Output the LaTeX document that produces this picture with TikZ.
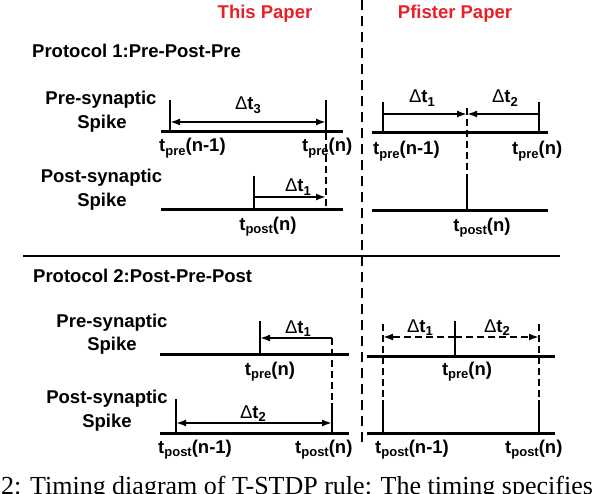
\documentclass[tikz,border=0pt]{standalone}
\usepackage{fontspec}
\setmainfont{Liberation Sans}
\newfontfamily\capfont{Liberation Serif}
\usetikzlibrary{arrows.meta}
\definecolor{hdred}{RGB}{232,32,40}
\newcommand{\tl}[2]{\textbf{t\raisebox{-0.32ex}{\fontsize{13}{13}\selectfont #1}(#2)}}
\newcommand{\dt}[1]{{\mdseries\char"0394}\textbf{t\raisebox{-0.32ex}{\fontsize{13}{13}\selectfont #1}}}
\begin{document}
\begin{tikzpicture}[x=1pt,y=-1pt,
  lab/.style={font=\bfseries\fontsize{18.5}{22}\selectfont, inner sep=0pt, anchor=base},
  tlab/.style={font=\fontsize{18.5}{22}\selectfont, inner sep=0pt, anchor=base},
  axis/.style={line width=3pt},
  tickln/.style={line width=2.6pt},
  arr/.style={line width=1.8pt},
  dashv/.style={line width=1.8pt, dash pattern=on 7pt off 4pt},
  tip/.style={-{Latex[length=10pt,width=7pt]}},
  tips/.style={{Latex[length=10pt,width=7pt]}-{Latex[length=10pt,width=7pt]}}]
\useasboundingbox (0,0) rectangle (596,494);
% headers
\node[lab, text=hdred] (h1) at (265,19) {This Paper};
\node[lab, text=hdred] (h2) at (455,19) {Pfister Paper};
\coordinate (dv0) at (362,0); \coordinate (dv1) at (362,443);
\draw[line width=2pt, dash pattern=on 10pt off 6pt] (dv0) -- (dv1);
\coordinate (hs0) at (23,256); \coordinate (hs1) at (560,256);
\draw[line width=2.6pt] (hs0) -- (hs1);
% protocol titles
\node[lab, anchor=base west] (pt1) at (32,58) {Protocol 1:Pre-Post-Pre};
\node[lab, anchor=base west] (pt2) at (33,282) {Protocol 2:Post-Pre-Post};
% row labels P1
\node[lab] (l1a) at (101,105) {Pre-synaptic};
\node[lab] (l1b) at (102,129) {Spike};
\node[lab] (l2a) at (101.5,183) {Post-synaptic};
\node[lab] (l2b) at (102,207) {Spike};
% row labels P2
\node[lab] (l3a) at (112,327) {Pre-synaptic};
\node[lab] (l3b) at (112,350) {Spike};
\node[lab] (l4a) at (107,403) {Post-synaptic};
\node[lab] (l4b) at (107,427) {Spike};

% ---------- Protocol 1, This Paper
\coordinate (a0) at (161,132); \coordinate (a1) at (343,132);
\draw[axis] (a0) -- (a1);
\coordinate (ta0) at (170,100); \coordinate (ta1) at (170,133);
\coordinate (tb0) at (326,100); \coordinate (tb1) at (326,133);
\draw[tickln] (ta0) -- (ta1); \draw[tickln] (tb0) -- (tb1);
\coordinate (r0) at (170,122); \coordinate (r1) at (326,122);
\draw[arr,tips] (r0) -- (r1);
\coordinate (b0) at (161,210); \coordinate (b1) at (343,210);
\draw[axis] (b0) -- (b1);
\coordinate (tc0) at (254,176); \coordinate (tc1) at (254,211);
\draw[tickln] (tc0) -- (tc1);
\coordinate (dd0) at (326,133); \coordinate (dd1) at (326,210);
\draw[dashv] (dd0) -- (dd1);
\coordinate (s0) at (254,197); \coordinate (s1) at (326,197);
\draw[arr,tip] (s0) -- (s1);
\node[tlab] (d3) at (248,110) {\dt{3}};
\node[tlab] (d1) at (298,192) {\dt{1}};
\node[tlab, anchor=base west] (q1) at (159,152) {\tl{pre}{n-1}};
\node[tlab, anchor=base west] (q2) at (302,152) {\tl{pre}{n}};
\node[tlab] (q3) at (268,230) {\tl{post}{n}};

% ---------- Protocol 1, Pfister
\coordinate (e0) at (372,133); \coordinate (e1) at (548,133);
\draw[axis] (e0) -- (e1);
\coordinate (te0) at (383,102); \coordinate (te1) at (383,134);
\coordinate (tf0) at (539,102); \coordinate (tf1) at (539,134);
\draw[tickln] (te0) -- (te1); \draw[tickln] (tf0) -- (tf1);
\coordinate (m) at (467,114);
\coordinate (u0) at (383,114); \coordinate (u1) at (539,114);
\draw[arr,tip] (u0) -- (m);
\draw[arr,tip] (u1) -- (m);
\coordinate (g0) at (467,108); \coordinate (g1) at (467,177); \coordinate (g2) at (467,211);
\draw[dashv] (g0) -- (g1);
\draw[tickln] (g1) -- (g2);
\coordinate (f0) at (372,211); \coordinate (f1) at (548,211);
\draw[axis] (f0) -- (f1);
\node[tlab] (d4) at (422,103) {\dt{1}};
\node[tlab] (d5) at (505,103) {\dt{2}};
\node[tlab, anchor=base west] (q4) at (373,155) {\tl{pre}{n-1}};
\node[tlab, anchor=base west] (q5) at (512,155) {\tl{pre}{n}};
\node[tlab] (q6) at (482,231) {\tl{post}{n}};

% ---------- Protocol 2, This Paper
\coordinate (h0) at (160,354); \coordinate (h1) at (349,354);
\draw[axis] (h0) -- (h1);
\coordinate (th0) at (260,321); \coordinate (th1) at (260,355);
\draw[tickln] (th0) -- (th1);
\coordinate (v0) at (332,338); \coordinate (v1) at (260,338);
\draw[arr,tip] (v0) -- (v1);
\coordinate (k0) at (332,338); \coordinate (k1) at (332,403); \coordinate (k2) at (332,434);
\draw[dashv] (k0) -- (k1);
\draw[tickln] (k1) -- (k2);
\coordinate (i0) at (160,433); \coordinate (i1) at (349,433);
\draw[axis] (i0) -- (i1);
\coordinate (ti0) at (176,399); \coordinate (ti1) at (176,434);
\draw[tickln] (ti0) -- (ti1);
\coordinate (w0) at (176,423); \coordinate (w1) at (332,423);
\draw[arr,tips] (w0) -- (w1);
\node[tlab] (d6) at (298,333) {\dt{1}};
\node[tlab] (d7) at (253,418) {\dt{2}};
\node[tlab] (q7) at (270,375) {\tl{pre}{n}};
\node[tlab, anchor=base west] (q8) at (158,453) {\tl{post}{n-1}};
\node[tlab, anchor=base west] (q9) at (295,453) {\tl{post}{n}};

% ---------- Protocol 2, Pfister
\coordinate (n0) at (367,356); \coordinate (n1) at (555,356);
\draw[axis] (n0) -- (n1);
\coordinate (tn0) at (455,321); \coordinate (tn1) at (455,357);
\draw[tickln] (tn0) -- (tn1);
\coordinate (c0) at (455,337); \coordinate (c1) at (383,337); \coordinate (c2) at (539,337);
\draw[arr,dash pattern=on 7pt off 4pt,tip] (c0) -- (c1);
\draw[arr,dash pattern=on 7pt off 4pt,tip] (c0) -- (c2);
\coordinate (x0) at (383,324); \coordinate (x1) at (383,400); \coordinate (x2) at (383,434);
\coordinate (y0) at (539,324); \coordinate (y1) at (539,400); \coordinate (y2) at (539,434);
\draw[dashv] (x0) -- (x1); \draw[tickln] (x1) -- (x2);
\draw[dashv] (y0) -- (y1); \draw[tickln] (y1) -- (y2);
\coordinate (o0) at (367,433); \coordinate (o1) at (555,433);
\draw[axis] (o0) -- (o1);
\node[tlab] (d8) at (420,332) {\dt{1}};
\node[tlab] (d9) at (497,332) {\dt{2}};
\node[tlab] (q10) at (467,375) {\tl{pre}{n}};
\node[tlab, anchor=base west] (q11) at (375,453) {\tl{post}{n-1}};
\node[tlab, anchor=base west] (q12) at (505,453) {\tl{post}{n}};

% caption (cut by the page edge, as in the reference)
\begin{scope}
\clip (0,0) rectangle (596,494);
\node[inner sep=0pt, anchor=base west, font=\capfont\fontsize{26}{28}\selectfont] (cap) at (1,494.5) {2: Timing diagram of T-STDP rule: The timing specifies};
\end{scope}
\end{tikzpicture}
\end{document}
